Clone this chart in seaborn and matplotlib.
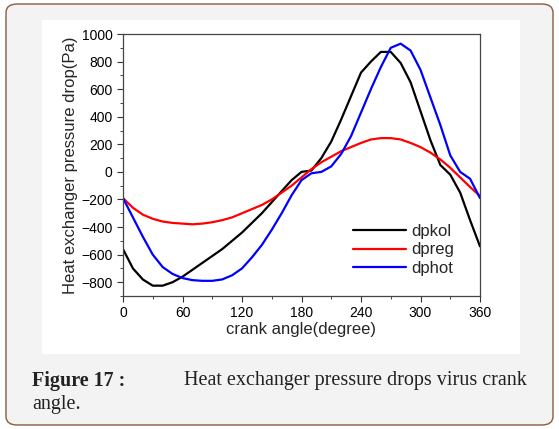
import matplotlib
matplotlib.use('Agg')
import matplotlib.pyplot as plt
from matplotlib.patches import FancyBboxPatch, Rectangle
from matplotlib.ticker import MultipleLocator
import seaborn as sns
import pandas as pd

angle = list(range(0, 361, 10))
dpkol = [-560, -700, -780, -825, -825, -800, -760, -710, -660, -610, -560, -500, -440,
         -370, -300, -220, -140, -60, 0, 10, 100, 220, 380, 550, 720, 800, 870, 870,
         790, 650, 440, 230, 50, -20, -150, -350, -540]
dpreg = [-190, -260, -310, -340, -360, -370, -375, -380, -375, -365, -350, -330, -300,
         -270, -240, -200, -150, -100, -40, 20, 70, 110, 150, 180, 210, 235, 245, 245,
         235, 210, 180, 140, 90, 30, -40, -110, -175]
dphot = [-190, -330, -470, -600, -690, -740, -770, -785, -790, -790, -780, -750, -700,
         -620, -530, -420, -300, -170, -60, -10, 0, 40, 130, 260, 430, 600, 760, 900,
         930, 880, 740, 540, 340, 120, 0, -50, -190]

df = pd.DataFrame({'angle': angle, 'dpkol': dpkol, 'dpreg': dpreg, 'dphot': dphot})
long = df.melt(id_vars='angle', var_name='series', value_name='dp')

sns.set_style('ticks')
plt.rcParams['font.family'] = ['Liberation Sans', 'DejaVu Sans']

fig = plt.figure(figsize=(5.59, 4.29), dpi=100)
fig.patch.set_facecolor('white')
fig.patches.append(FancyBboxPatch((6 / 559, 4 / 429), 547 / 559, 421 / 429,
                                  boxstyle='round,pad=0,rounding_size=0.02',
                                  transform=fig.transFigure, facecolor='#f3f3f3',
                                  edgecolor='#8a5a44', linewidth=1, zorder=-2))
fig.patches.append(Rectangle((42 / 559, 1 - 354 / 429), 478 / 559, 334 / 429,
                             transform=fig.transFigure, facecolor='white',
                             edgecolor='none', zorder=-1))

ax = fig.add_axes([123 / 559, 1 - 296 / 429, 357 / 559, 262 / 429])
ax.set_facecolor('white')
sns.lineplot(data=long, x='angle', y='dp', hue='series',
             palette={'dpkol': 'black', 'dpreg': 'red', 'dphot': 'blue'},
             linewidth=1.6, ax=ax)
ax.set_xlim(0, 360)
ax.set_ylim(-900, 1000)
ax.xaxis.set_major_locator(MultipleLocator(60))
ax.xaxis.set_minor_locator(MultipleLocator(30))
ax.yaxis.set_major_locator(MultipleLocator(200))
ax.yaxis.set_minor_locator(MultipleLocator(100))
ax.tick_params(which='major', length=4, labelsize=10, colors='#333333', labelcolor='black')
ax.tick_params(which='minor', length=2.5)
for s in ax.spines.values():
    s.set_color('#444444')
    s.set_linewidth(0.9)
ax.set_xlabel('crank angle(degree)', fontsize=12, labelpad=1)
ax.set_ylabel('Heat exchanger pressure drop(Pa)', fontsize=12, labelpad=2)
ax.legend(title=None, frameon=False, fontsize=12, loc='lower right',
          bbox_to_anchor=(0.97, 0.02), handlelength=3.2, handletextpad=0.3,
          labelspacing=0.2)

fig.text(32 / 559, 1 - 381 / 429, 'Figure 17 :', fontsize=14.5, fontweight='bold',
         family='Liberation Serif', va='center', color='#222222')
fig.text(527 / 559, 1 - 381 / 429, 'Heat exchanger pressure drops virus crank',
         fontsize=14.5, family='Liberation Serif', va='center', ha='right', color='#222222')
fig.text(32 / 559, 1 - 405 / 429, 'angle.', fontsize=14.5, family='Liberation Serif',
         va='center', color='#222222')

fig.savefig('out.png', dpi=100)
